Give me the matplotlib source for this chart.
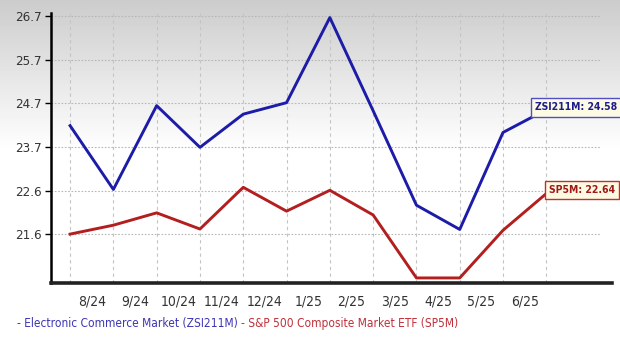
import matplotlib
matplotlib.use('Agg')
import matplotlib.pyplot as plt
import numpy as np

# monthly labels sit between the gridlines, points sit on them
months = ['8/24', '9/24', '10/24', '11/24', '12/24', '1/25', '2/25',
          '3/25', '4/25', '5/25', '6/25']
x_idx = [0, 1, 2, 3, 4, 5, 6, 7, 8, 9, 10, 11.1]
zsi = [24.15, 22.65, 24.62, 23.64, 24.42, 24.69, 26.69, 24.50, 22.28, 21.71, 23.99, 24.58]
sp5 = [21.60, 21.81, 22.10, 21.72, 22.70, 22.14, 22.63, 22.05, 20.57, 20.57, 21.69, 22.64]
ytick_vals = [21.6, 22.625, 23.65, 24.675, 25.7, 26.725]
ytick_labels = ['21.6', '22.6', '23.7', '24.7', '25.7', '26.7']

BLUE = '#1c1ca8'
RED = '#b31e1e'
plt.rcParams['font.family'] = ['DejaVu Sans']
plt.rcParams['font.stretch'] = 'condensed'

fig = plt.figure(figsize=(6.2, 3.49), dpi=100)

# grey-to-white background gradient
bg = fig.add_axes([0, 0, 1, 1], zorder=0)
rows = np.arange(349)
grad = np.clip(0.80 + 0.20 * rows / 150.0, 0, 1)
bg.imshow(grad[:, None], aspect='auto', cmap='gray', vmin=0, vmax=1,
          extent=[0, 1, 0, 1])
bg.axis('off')

ax = fig.add_axes([0.0823, 0.189, 0.905, 0.774], zorder=1)
ax.patch.set_alpha(0)
ax.set_xlim(-0.44, 12.52)
ax.set_ylim(20.45, 26.80)

for i in range(12):
    ax.axvline(i, color='#c4c4c4', lw=0.8, ls=(0, (3, 3)), zorder=1)
ax.hlines(ytick_vals, -0.44, 12.25, color='#b8b8b8', lw=0.8,
          linestyles=(0, (1.5, 1.5)), zorder=1)

ax.plot(x_idx, zsi, color=BLUE, lw=2.1, zorder=3)
ax.plot(x_idx, sp5, color=RED, lw=2.1, zorder=3)

for s in ['top', 'right']:
    ax.spines[s].set_visible(False)
ax.spines['left'].set_linewidth(1.8)
ax.spines['bottom'].set_linewidth(2.6)
ax.spines['bottom'].set_color('#222222')

ax.set_yticks(ytick_vals)
ax.set_yticklabels(ytick_labels)
ax.tick_params(axis='y', length=4, width=1, colors='black', labelcolor='#333333',
               labelsize=9.5, pad=3)
ax.set_xticks([i + 0.5 for i in range(len(months))])
ax.set_xticklabels(months)
ax.tick_params(axis='x', length=0, labelcolor='#333333', labelsize=10, pad=8)

# end-of-line value boxes
ax.text(10.74, zsi[-1], 'ZSI211M: 24.58', ha='left', va='center', fontsize=7.5,
        weight='bold', color='#1c1c8c', zorder=5, clip_on=False,
        bbox=dict(boxstyle='square,pad=0.4', fc='#fdfae3', ec='#5050c4', lw=1))
ax.text(11.06, sp5[-1], 'SP5M: 22.64', ha='left', va='center', fontsize=7.5,
        weight='bold', color='#a01818', zorder=5, clip_on=False,
        bbox=dict(boxstyle='square,pad=0.4', fc='#fdfae3', ec='#c03030', lw=1))

# legend along the bottom
fig.text(17 / 620, 1 - 324 / 349, '- Electronic Commerce Market (ZSI211M)',
         color='#3d35b5', fontsize=8.6, va='center', ha='left')
fig.text(241 / 620, 1 - 324 / 349, '- S&P 500 Composite Market ETF (SP5M)',
         color='#c0303a', fontsize=8.6, va='center', ha='left')

fig.savefig('out.png', dpi=100)
